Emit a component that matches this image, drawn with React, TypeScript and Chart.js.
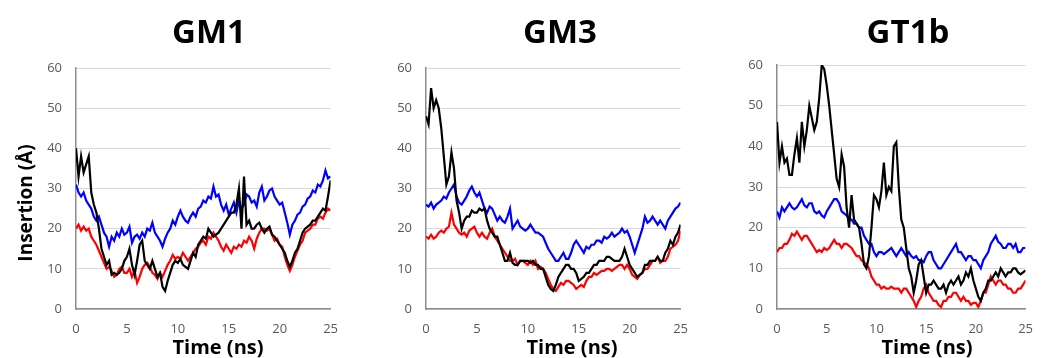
import React, { useEffect, useRef } from "react";
import { Chart, registerables } from "chart.js";

Chart.register(...registerables);

const FONT = "'Open Sans', 'DejaVu Sans', sans-serif";

// Time axis sample points (ns)
const TIME_NS = [
  0, 0.25, 0.5, 0.75, 1, 1.25, 1.5, 1.75, 2, 2.25,
  2.5, 2.75, 3, 3.25, 3.5, 3.75, 4, 4.25, 4.5, 4.75,
  5, 5.25, 5.5, 5.75, 6, 6.25, 6.5, 6.75, 7, 7.25,
  7.5, 7.75, 8, 8.25, 8.5, 8.75, 9, 9.25, 9.5, 9.75,
  10, 10.25, 10.5, 10.75, 11, 11.25, 11.5, 11.75, 12, 12.25,
  12.5, 12.75, 13, 13.25, 13.5, 13.75, 14, 14.25, 14.5, 14.75,
  15, 15.25, 15.5, 15.75, 16, 16.25, 16.5, 16.75, 17, 17.25,
  17.5, 17.75, 18, 18.25, 18.5, 18.75, 19, 19.25, 19.5, 19.75,
  20, 20.25, 20.5, 20.75, 21, 21.25, 21.5, 21.75, 22, 22.25,
  22.5, 22.75, 23, 23.25, 23.5, 23.75, 24, 24.25, 24.5, 24.75,
  25,
];

const PANEL_TITLES = ["GM1", "GM3", "GT1b"];
const X_TICKS = [0, 5, 10, 15, 20, 25];
const Y_TICKS = [0, 10, 20, 30, 40, 50, 60];
const X_LABEL = "Time (ns)";
const Y_LABEL = "Insertion (Å)";

// ---- GM1 ----
const GM1_BLUE = [
  31, 29, 28, 29, 27, 26, 25, 23, 22, 23,
  21, 19, 18, 15.5, 18, 17, 19, 18, 20, 18.5,
  19, 20.5, 16.5, 18, 18.5, 17.5, 19, 18, 20, 19.5,
  21.5, 19, 18, 17, 15.5, 17.5, 19, 20, 22, 21,
  23, 24.5, 23, 22, 21.5, 23, 24, 23, 25, 25.5,
  27, 26.5, 28, 27.5, 30.5, 28, 28.5, 26, 24.5, 26,
  23.5, 25, 26.5, 24, 27, 25, 26, 28.5, 28, 26.5,
  27, 25.5, 29, 30.5, 27, 28, 29.5, 30, 28, 27,
  26, 26.5, 24, 21.5, 18.5, 21, 22, 23.5, 24, 25.5,
  26, 27.5, 28, 29.5, 29, 31, 30.5, 32, 34.5, 32.5,
  33,
];
const GM1_RED = [
  20, 21, 19.5, 20.5, 19.5, 20, 18, 17, 16, 14.5,
  13, 11.5, 10, 10.5, 9.5, 8, 8.5, 10, 10.5, 9,
  9, 10, 8, 9.5, 6.5, 8, 10, 11, 11.5, 10.5,
  9, 8.5, 7.5, 9, 8, 9.5, 11, 12, 13.5, 12.5,
  13, 12.5, 14, 13, 12, 13, 14, 15, 15.5, 16.5,
  17, 16, 18, 17.5, 19, 18, 17, 15.5, 14.5, 16,
  15, 14, 15.5, 15, 16, 15.5, 17, 16.5, 18, 17,
  15, 17.5, 19, 20, 20, 19.5, 20, 18.5, 17, 17.5,
  16, 15.5, 13, 11, 9.5, 11, 13, 14.5, 16, 17,
  19, 19.5, 20, 21, 21, 22.5, 23, 22.5, 24, 25,
  24.5,
];
const GM1_BLACK = [
  40, 33, 38, 34, 36, 38, 29, 26, 24, 20,
  15, 13, 11, 12, 8.5, 9, 8.5, 9, 10, 12,
  13, 15, 11, 8.5, 12, 16, 17, 12, 11, 10,
  12, 10, 8, 9, 5.5, 4.5, 7, 9, 11, 12,
  11.5, 12.5, 11, 10.5, 10, 12, 14, 13, 16, 17,
  18, 17.5, 20, 19, 18, 18.5, 19, 20, 21, 22,
  23, 24, 24, 26, 30, 20, 33, 21, 22, 20,
  20, 21, 21.5, 20, 19, 20, 20.5, 18.5, 18, 17,
  16, 15, 14, 12, 10.5, 12, 14, 15, 17, 19,
  20, 20.5, 21, 22, 22, 23, 24, 25, 24.5, 28,
  32,
];

// ---- GM3 ----
const GM3_BLUE = [
  26, 25.5, 26.5, 25, 26, 26.5, 27, 28, 27.5, 29,
  30, 31, 28, 26.5, 26, 27, 28, 29.5, 30.5, 29,
  28, 29, 27, 25, 24, 25.5, 25, 23.5, 22, 23,
  22, 21.5, 23, 25, 20, 21, 22, 20.5, 20, 19.5,
  20, 21, 20, 19, 19, 18.5, 18, 16.5, 15, 14,
  13, 12, 12, 13, 14, 12.5, 12.5, 14, 16, 17,
  16, 15, 14, 15.5, 15, 16, 16, 17, 17, 16.5,
  18, 17.5, 18, 19, 18, 18.5, 19, 20, 19, 19.5,
  18, 16, 14, 16, 18, 20, 23, 21.5, 22, 23,
  22, 21, 22, 21, 20, 22, 23, 24, 25, 25.5,
  26.5,
];
const GM3_RED = [
  18, 17.5, 18.5, 17.5, 18, 19, 19.5, 19, 20, 20.5,
  24, 21, 20, 19, 18.5, 19, 18, 19.5, 20, 20.5,
  19, 18, 19, 18, 17.5, 19, 20, 18, 17, 16,
  15, 14, 13, 12, 12, 12.5, 11, 12, 12, 11.5,
  11, 12, 11, 12, 10, 10.5, 10, 9, 7.5, 6,
  5, 4.5, 5.5, 6.5, 6, 7, 7, 6.5, 6, 5,
  5.5, 6, 5.5, 7, 8, 8, 9, 8.5, 9, 9.5,
  9.5, 10, 10, 9.5, 10, 10.5, 11, 11, 10, 11,
  10, 8.5, 8, 7.5, 8.5, 9, 10, 10, 11, 12,
  12, 13, 11.5, 12, 12, 13, 15, 15.5, 16, 17,
  19.5,
];
const GM3_BLACK = [
  48, 46, 55, 50, 52, 50, 45, 38, 31, 33,
  39, 35, 27, 24, 20, 22, 23, 23, 24.5, 24,
  24, 25, 24.5, 25, 22, 20, 19, 18, 18, 16,
  14, 12, 12, 14, 11.5, 11, 11, 12, 12, 12,
  12, 11.5, 12, 11, 11, 10, 10, 8, 6, 5,
  4.5, 6, 8, 9, 10, 11, 11, 10, 10, 9,
  7, 7.5, 8, 9, 9, 10, 11, 11, 12, 12,
  12, 13, 13, 12.5, 12, 12, 12, 13, 15, 13,
  11, 10, 9, 8, 8.5, 9, 11, 11, 12, 12,
  12, 13, 12, 12, 14, 15, 17, 16, 18, 19,
  21,
];

// ---- GT1b ----
const GT1B_BLUE = [
  24, 22.5, 25, 24, 25, 26, 25, 24.5, 25, 26,
  27, 25.5, 25, 26, 26, 24, 23.5, 24, 23, 22.5,
  24, 25, 26, 27, 27, 26, 24, 23.5, 23, 22,
  22, 21, 21, 20, 20, 18, 17, 16, 16, 14,
  13, 14, 14, 13.5, 14, 14.5, 15, 14, 13, 14,
  15, 14, 13, 14, 13, 12.5, 13, 12, 12, 11.5,
  13, 14, 14, 12, 11, 10, 10, 11, 12, 13,
  14, 15, 16, 14, 14, 13, 12, 13, 13, 12,
  12, 11, 10, 12, 13, 14, 16, 17, 18, 16.5,
  16, 15, 15, 16, 16, 15, 16, 14, 14, 15,
  15,
];
const GT1B_RED = [
  14, 15, 15, 16, 16, 17, 18.5, 18, 19, 18,
  17, 18, 18, 17, 16, 15, 14, 14.5, 14, 15,
  14.5, 15, 16, 17, 16, 16, 15, 16, 16, 15.5,
  15, 14, 13, 13, 12, 11.5, 11, 10, 8, 7,
  6, 6, 5, 5.5, 5, 5, 5.5, 5, 5, 5,
  4, 5, 5, 4, 3, 2, 0.5, 2, 3, 5,
  6, 4, 3, 2, 2, 1, 0.5, 2, 2, 3,
  3, 4, 4, 3, 2, 3, 2, 2, 1, 1.5,
  1.5, 0.5, 2, 4, 4, 6, 8, 7, 6, 7,
  7, 6, 6, 5, 5, 4, 4, 5, 5, 6,
  7,
];
const GT1B_BLACK = [
  46, 36, 40, 36, 37, 33, 33, 38, 42, 36,
  46, 40, 44, 50, 47, 44, 46, 52, 60, 59,
  55, 50, 44, 38, 32, 30, 38, 35, 25, 20,
  28, 22, 21, 20, 16, 11, 10, 13, 20, 28,
  27, 25, 29, 36, 28, 30, 29, 40, 41, 30,
  22, 20, 15, 10, 8, 4, 7, 11, 12, 8,
  4, 6, 6, 7, 6, 5, 5, 6, 4, 6,
  7, 6, 7, 8, 6, 7, 9, 8, 10, 7,
  5, 3, 2, 4, 5, 7, 7, 8, 9, 8,
  10, 9, 8, 9, 9, 10, 10, 9, 8.5, 9,
  9.5,
];

const SERIES = [
  { black: GM1_BLACK, red: GM1_RED, blue: GM1_BLUE },
  { black: GM3_BLACK, red: GM3_RED, blue: GM3_BLUE },
  { black: GT1B_BLACK, red: GT1B_RED, blue: GT1B_BLUE },
];

const PANEL_LAYOUT = [
  { left: 0, width: 350, areaLeft: 76, areaRight: 339, areaTop: 68, areaBottom: 309, titleX: 209, xTitleX: 218, yTitle: true },
  { left: 350, width: 350, areaLeft: 76, areaRight: 339, areaTop: 68, areaBottom: 309, titleX: 210, xTitleX: 222, yTitle: false },
  { left: 700, width: 345, areaLeft: 77, areaRight: 340, areaTop: 65, areaBottom: 309, titleX: 208, xTitleX: 227, yTitle: false },
];

const panelText = {
  id: "panelText",
  afterDraw(chart: any, _args: any, opts: any) {
    const ctx = chart.ctx;
    ctx.save();
    ctx.fillStyle = "#000";
    ctx.textAlign = "center";
    ctx.textBaseline = "alphabetic";
    ctx.font = `bold 33px ${FONT}`;
    ctx.fillText(opts.title, opts.titleX, opts.titleY);
    ctx.font = `bold 20px ${FONT}`;
    ctx.fillText(opts.xTitle, opts.xTitleX, opts.xTitleY);
    if (opts.yTitle) {
      ctx.translate(opts.yTitleX, opts.yTitleY);
      ctx.rotate(-Math.PI / 2);
      ctx.font = `bold 19px ${FONT}`;
      ctx.fillText(opts.yTitle, 0, 0);
    }
    ctx.restore();
  },
};

function Panel({ index }: { index: number }) {
  const ref = useRef<HTMLCanvasElement>(null);
  const lay = PANEL_LAYOUT[index];
  useEffect(() => {
    const s = SERIES[index];
    const mk = (vals: number[]) => TIME_NS.map((t, i) => ({ x: t, y: vals[i] }));
    const H = 358;
    const chart = new Chart(ref.current as HTMLCanvasElement, {
      type: "line",
      data: {
        datasets: [
          { label: "black", data: mk(s.black), borderColor: "#000000", backgroundColor: "#000000" },
          { label: "red", data: mk(s.red), borderColor: "#ff0000", backgroundColor: "#ff0000" },
          { label: "blue", data: mk(s.blue), borderColor: "#0000ff", backgroundColor: "#0000ff" },
        ],
      },
      plugins: [panelText as any],
      options: {
        animation: false,
        responsive: false,
        devicePixelRatio: 1,
        layout: {
          padding: { left: 0, right: lay.width - lay.areaRight, top: lay.areaTop, bottom: 0 },
        },
        elements: {
          point: { radius: 0, hoverRadius: 0 },
          line: { borderWidth: 2.2, tension: 0 },
        },
        plugins: {
          legend: { display: false },
          tooltip: { enabled: false },
          title: { display: false },
          panelText: {
            title: PANEL_TITLES[index],
            titleX: lay.titleX,
            titleY: 43,
            xTitle: X_LABEL,
            xTitleX: lay.xTitleX,
            xTitleY: 354,
            yTitle: lay.yTitle ? Y_LABEL : null,
            yTitleX: 32,
            yTitleY: 203,
          },
        } as any,
        scales: {
          x: {
            type: "linear",
            min: X_TICKS[0],
            max: X_TICKS[X_TICKS.length - 1],
            afterBuildTicks: (sc: any) => {
              sc.ticks = X_TICKS.map((v) => ({ value: v }));
            },
            ticks: {
              color: "#595959",
              font: { family: FONT, size: 13 },
              padding: 12,
              maxRotation: 0,
              autoSkip: false,
            },
            grid: { display: false, drawTicks: false },
            border: { display: true, color: "#8c8c8c", width: 1.5 },
            afterFit: (sc: any) => {
              sc.height = H - lay.areaBottom;
            },
          },
          y: {
            type: "linear",
            min: Y_TICKS[0],
            max: Y_TICKS[Y_TICKS.length - 1],
            afterBuildTicks: (sc: any) => {
              sc.ticks = Y_TICKS.map((v) => ({ value: v }));
            },
            ticks: {
              color: "#595959",
              font: { family: FONT, size: 13 },
              padding: 14,
              autoSkip: false,
            },
            grid: { color: "#d9d9d9", lineWidth: 1, drawTicks: false },
            border: { display: true, color: "#8c8c8c", width: 1.5 },
            afterFit: (sc: any) => {
              sc.width = lay.areaLeft;
            },
          },
        },
      } as any,
    });
    return () => chart.destroy();
  }, [index]);
  return (
    <div style={{ position: "absolute", left: lay.left, top: 0, width: lay.width, height: 358 }}>
      <canvas ref={ref} width={lay.width} height={358} style={{ display: "block", width: lay.width, height: 358 }} />
    </div>
  );
}

export default function App() {
  return (
    <div style={{ position: "absolute", left: 0, top: 0, width: 1045, height: 358, background: "#fff", overflow: "hidden" }}>
      <Panel index={0} />
      <Panel index={1} />
      <Panel index={2} />
    </div>
  );
}
